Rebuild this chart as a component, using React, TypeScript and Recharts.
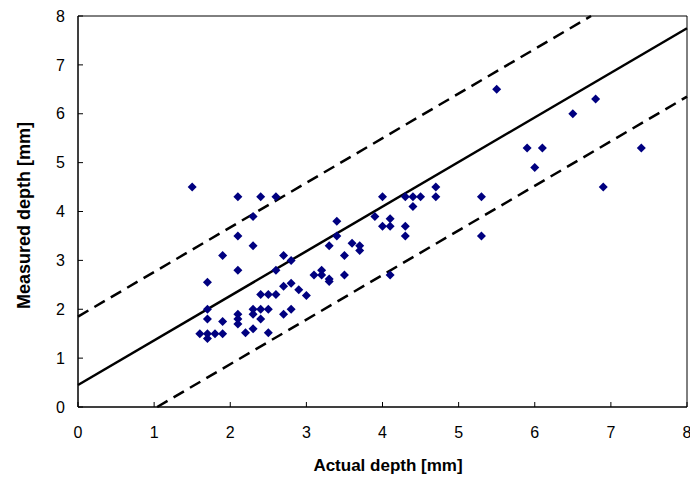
import React from 'react';
import { ComposedChart, Scatter, XAxis, YAxis, ReferenceLine, ReferenceArea } from 'recharts';

const actualDepth = [
  1.5, 2.1, 2.4, 2.6, 2.3, 2.1, 2.3, 1.9, 2.1, 1.7,
  1.7, 1.7, 1.9, 1.6, 1.7, 1.8, 1.9, 1.7, 2.1, 2.1,
  2.1, 2.2, 2.3, 2.3, 2.3, 2.4, 2.4, 2.5, 2.5, 2.4,
  2.5, 2.6, 2.6, 2.7, 2.7, 2.7, 2.8, 2.8, 2.8, 2.9,
  3.0, 3.1, 3.2, 3.2, 3.3, 3.3, 3.3, 3.4, 3.4, 3.5,
  3.5, 3.6, 3.7, 3.7, 3.9, 4.0, 4.0, 4.1, 4.1, 4.1,
  4.3, 4.3, 4.3, 4.4, 4.4, 4.5, 4.7, 4.7, 5.3, 5.3,
  5.5, 5.9, 6.0, 6.1, 6.5, 6.8, 6.9, 7.4,
];
const measuredDepth = [
  4.5, 4.3, 4.3, 4.3, 3.9, 3.5, 3.3, 3.1, 2.8, 2.55,
  2.0, 1.8, 1.75, 1.5, 1.5, 1.5, 1.5, 1.4, 1.9, 1.8,
  1.7, 1.52, 1.6, 2.0, 1.9, 2.0, 1.8, 2.0, 1.52, 2.3,
  2.3, 2.3, 2.8, 2.47, 1.9, 3.1, 3.0, 2.53, 2.0, 2.4,
  2.28, 2.7, 2.8, 2.7, 2.62, 2.57, 3.3, 3.5, 3.8, 3.1,
  2.7, 3.35, 3.3, 3.2, 3.9, 4.3, 3.7, 3.85, 3.7, 2.7,
  4.3, 3.7, 3.5, 4.3, 4.1, 4.3, 4.5, 4.3, 4.3, 3.5,
  6.5, 5.3, 4.9, 5.3, 6.0, 6.3, 4.5, 5.3,
];

const axisTicks = [0, 1, 2, 3, 4, 5, 6, 7, 8];

// regression line and +/- bounds: [x1, y1, x2, y2]
const fitLine = [0, 0.45, 8, 7.75];
const upperLine = [0, 1.85, 6.74, 8];
const lowerLine = [1.04, 0, 8, 6.35];

const points = actualDepth.map((x, i) => ({ x, y: measuredDepth[i] }));

const FONT = '"Liberation Sans", Arial, sans-serif';

const Diamond = (props: any) => {
  const { cx, cy } = props;
  const r = 4.5;
  return (
    <polygon
      points={`${cx},${cy - r} ${cx + r},${cy} ${cx},${cy + r} ${cx - r},${cy}`}
      fill="#000080"
    />
  );
};

const YTick = (props: any) => {
  const { x, y, payload } = props;
  return (
    <g>
      <line x1={x + 13} y1={y} x2={x + 18} y2={y} stroke="#000" strokeWidth={1} />
      <text x={x} y={y} dy="0.355em" textAnchor="end" fontSize={16} fontFamily={FONT} fill="#000">
        {payload.value}
      </text>
    </g>
  );
};

const XTick = (props: any) => {
  const { x, y, payload } = props;
  return (
    <g>
      <line x1={x} y1={y - 20} x2={x} y2={y - 25} stroke="#000" strokeWidth={1} />
      <text x={x} y={y} dy="0.71em" textAnchor="middle" fontSize={16} fontFamily={FONT} fill="#000">
        {payload.value}
      </text>
    </g>
  );
};

const seg = (a: number[]) => [
  { x: a[0], y: a[1] },
  { x: a[2], y: a[3] },
];

export default function App() {
  return (
    <div style={{ position: 'absolute', left: 0, top: 0, width: 690, height: 477, background: '#fff' }}>
      <ComposedChart width={690} height={477} margin={{ top: 16, right: 3, bottom: 0, left: 0 }}>
        <XAxis
          type="number"
          dataKey="x"
          domain={[0, 8]}
          ticks={axisTicks}
          interval={0}
          allowDataOverflow
          height={70}
          tickSize={0}
          tickMargin={20}
          tick={<XTick />}
          axisLine={{ stroke: '#000', strokeWidth: 1 }}
          label={{
            content: () => (
              <text
                x={388}
                y={471}
                textAnchor="middle"
                fontSize={17}
                fontWeight="bold"
                fontFamily={FONT}
                fill="#000"
              >
                Actual depth [mm]
              </text>
            ),
          }}
        />
        <YAxis
          type="number"
          dataKey="y"
          domain={[0, 8]}
          ticks={axisTicks}
          interval={0}
          allowDataOverflow
          width={78}
          tickSize={0}
          tickMargin={13}
          tick={<YTick />}
          axisLine={{ stroke: '#000', strokeWidth: 1 }}
          label={{
            content: ({ viewBox }: any) => {
              const cx = 30;
              const cy = viewBox.y + viewBox.height / 2 + 4;
              return (
                <text
                  x={cx}
                  y={cy}
                  textAnchor="middle"
                  fontSize={18}
                  fontWeight="bold"
                  fontFamily={FONT}
                  fill="#000"
                  transform={`rotate(-90, ${cx}, ${cy})`}
                >
                  Measured depth [mm]
                </text>
              );
            },
          }}
        />
        <ReferenceArea x1={0} x2={8} y1={0} y2={8} fill="none" stroke="#000" strokeWidth={1} ifOverflow="visible" />
        <ReferenceLine segment={seg(fitLine)} stroke="#000" strokeWidth={2.5} ifOverflow="visible" />
        <ReferenceLine segment={seg(upperLine)} stroke="#000" strokeWidth={2.5} strokeDasharray="12 7" ifOverflow="visible" />
        <ReferenceLine segment={seg(lowerLine)} stroke="#000" strokeWidth={2.5} strokeDasharray="12 7" ifOverflow="visible" />
        <Scatter data={points} shape={<Diamond />} isAnimationActive={false} />
      </ComposedChart>
    </div>
  );
}
